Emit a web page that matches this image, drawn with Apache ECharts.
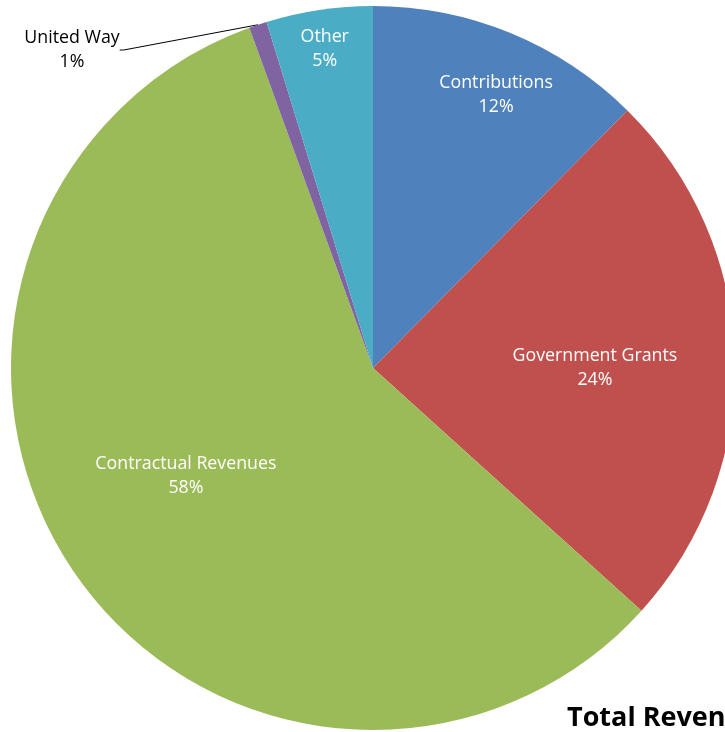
<!DOCTYPE html>
<html>
<head>
<meta charset="utf-8">
<script src="https://cdn.jsdelivr.net/npm/echarts@6/dist/echarts.min.js"></script>
<style>
html,body{margin:0;padding:0;background:#fff;}
#chart{width:725px;height:732px;}
</style>
</head>
<body>
<div id="chart"></div>
<script>
const categories = ['Contributions', 'Government Grants', 'Contractual Revenues', 'United Way', 'Other'];
const values = [12.4, 24.3, 57.75, 0.8, 4.75];
const titleText = 'Total Revenue';

const colors = ['#4F81BD', '#C0504D', '#9BBB59', '#8064A2', '#4BACC6'];
const CX = 373, CY = 368, R = 362;
const labelRadiusFrac = [0.832, 0.613, 0.594, null, 0.897];
const labelAngleOffset = [1.8, 1.1, 4.4, 0, 0];
const LABEL_DY = 2;
const FONT = '"Open Sans", Lato, sans-serif';

const total = values.reduce((a, b) => a + b, 0);
const midAngles = [];
let acc = 0;
values.forEach(v => { midAngles.push((acc + v / 2) / total * 2 * Math.PI); acc += v; });

const chart = echarts.init(document.getElementById('chart'), null, {renderer: 'canvas'});
chart.setOption({
  animation: false,
  backgroundColor: '#fff',
  title: {
    text: titleText,
    left: 567, top: 705,
    padding: 0,
    textStyle: {fontFamily: FONT, fontWeight: 'bold', fontSize: 27, color: '#000'}
  },
  series: [{
    type: 'pie',
    center: [CX, CY],
    radius: [0, R],
    startAngle: 90,
    clockwise: true,
    avoidLabelOverlap: false,
    itemStyle: {borderWidth: 0},
    label: {
      show: true,
      position: 'inside',
      fontFamily: FONT,
      fontSize: 17.8,
      lineHeight: 24,
      color: '#fff',
      formatter: p => p.name + '\n' + Math.round(p.percent) + '%'
    },
    labelLine: {show: false},
    labelLayout: function (p) {
      const i = p.dataIndex;
      if (i === 3) {
        return {x: 72, y: 50, align: 'center', verticalAlign: 'middle'};
      }
      const a = midAngles[i] + labelAngleOffset[i] * Math.PI / 180;
      const r = labelRadiusFrac[i] * R;
      return {x: CX + r * Math.sin(a), y: CY - r * Math.cos(a) + LABEL_DY, align: 'center', verticalAlign: 'middle'};
    },
    data: categories.map((c, i) => {
      const d = {name: c, value: values[i], itemStyle: {color: colors[i]}};
      if (i === 3) {
        d.label = {position: 'outside', color: '#000'};
        d.labelLine = {show: true, length: 10, length2: 4, smooth: false, lineStyle: {color: '#000', width: 1}};
      }
      return d;
    })
  }]
});
</script>
</body>
</html>
